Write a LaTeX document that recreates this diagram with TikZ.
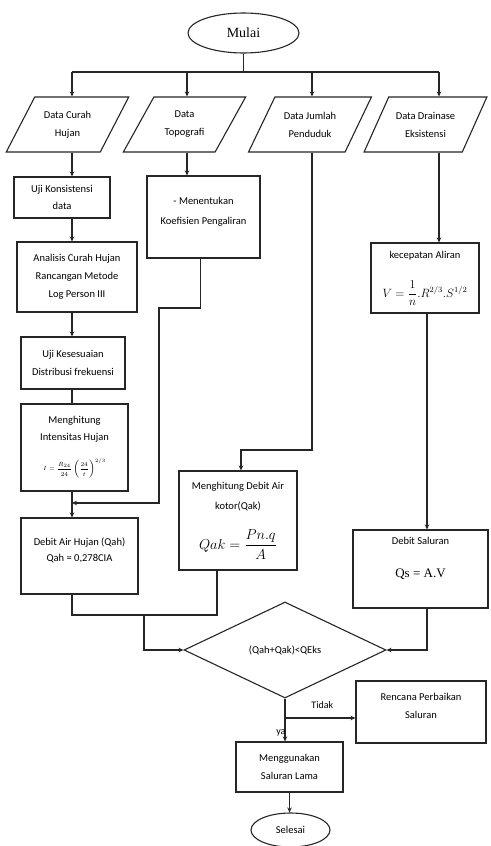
\documentclass[tikz,border=0pt]{standalone}
\usepackage{fontspec}
\setmainfont{Carlito}
\newfontfamily\serif{Liberation Serif}
\usetikzlibrary{shapes.geometric, arrows.meta}

\begin{document}
\begin{tikzpicture}[
    x=1pt, y=-1pt,
    >={Stealth[length=5pt, width=4.5pt]},
    font=\fontsize{10.5}{18}\selectfont,
    line/.style={line width=1.1pt, draw=black!85},
    arr/.style ={line, ->},
    box/.style ={draw=black!85, line width=1.1pt, fill=white, align=center, inner sep=3pt},
    io/.style  ={box, trapezium, trapezium left angle=55, trapezium right angle=125,
                 trapezium stretches=true, minimum width=123pt, minimum height=55pt},
    term/.style={box, ellipse},
    cond/.style={box, diamond, aspect=2.1, inner sep=0pt},
    lbl/.style ={font=\fontsize{10}{12}\selectfont, inner sep=1pt}
  ]
  \path[fill=white] (0,0) rectangle (490,846);
  \useasboundingbox (0,0) rectangle (490,846);

  % ---- start and the four data inputs -----------------------------------
  \node[term, minimum width=111pt, minimum height=40pt,
        font=\serif\fontsize{14}{16}\selectfont] (mulai) at (243.5,33) {Mulai};

  \node[io] (d1) at (67.5,124.5)  {Data Curah\\Hujan};
  \node[io] (d2) at (184.5,124.5) {Data\\Topografi};
  \node[io] (d3) at (310,124.5)   {Data Jumlah\\Penduduk};
  \node[io] (d4) at (425.5,124.5) {Data Drainase\\Eksistensi};

  % ---- column 1: rainfall --------------------------------------------------
  \node[box, minimum width=96pt, minimum height=41pt] (uji) at (62,197.5)
        {Uji Konsistensi\\[-1pt]data};
  \node[box, minimum width=120pt, minimum height=70pt] (ana) at (77,277)
        {Analisis Curah Hujan\\Rancangan Metode\\Log Person III};
  \node[box, minimum width=104pt, minimum height=52pt] (kes) at (73,363)
        {Uji Kesesuaian\\Distribusi frekuensi};
  \node[box, minimum width=107pt, minimum height=87pt] (ih) at (74.5,447.5)
        {Menghitung\\[-1pt]Intensitas Hujan\\[12pt]
         {\fontsize{6}{7}\selectfont$\displaystyle I=\frac{R_{24}}{24}\left(\frac{24}{t}\right)^{2/3}$}};
  \node[box, minimum width=117pt, minimum height=76pt, text depth=12.5pt] (qah) at (79.5,556)
        {Debit Air Hujan (Qah)\\[-2pt]Qah = 0,278CIA};

  % ---- column 2: topography -----------------------------------------------
  \node[box, minimum width=113pt, minimum height=82pt, text depth=12.5pt] (koef) at (203.5,217)
        {- Menentukan\\[2pt]Koefisien Pengaliran};

  % ---- column 3: population -----------------------------------------------
  \node[box, minimum width=118pt, minimum height=99pt] (qak) at (238,520.5)
        {Menghitung Debit Air\\[2pt]kotor(Qak)\\[18pt]
         {\fontsize{14}{16}\selectfont$\displaystyle Qak=\frac{Pn.q}{A}$}};

  % ---- column 4: existing drainage ----------------------------------------
  \node[box, minimum width=108pt, minimum height=70pt] (kec) at (425,278)
        {kecepatan Aliran\\[21pt]
         {\fontsize{12}{14}\selectfont$\displaystyle V=\frac{1}{n}.R^{2/3}.S^{1/2}$}};
  \node[box, minimum width=135pt, minimum height=78pt, text depth=22.5pt] (sal) at (420.5,569)
        {Debit Saluran\\[15pt]{\serif\fontsize{13}{15}\selectfont Qs = A.V}};

  % ---- decision and end ------------------------------------------------------
  \node[cond, minimum width=202pt, minimum height=96pt] (dec) at (285,650) {(Qah+Qak)<QEks};
  \node[box, minimum width=130pt, minimum height=62pt, text depth=12.5pt] (ren) at (421,712)
        {Rencana Perbaikan\\Saluran};
  \node[box, minimum width=107pt, minimum height=50pt] (lama) at (289.5,767)
        {Menggunakan\\Saluran Lama};
  \node[term, minimum width=79pt, minimum height=34pt] (sel) at (290.5,830) {Selesai};

  % ---- helper coordinates ------------------------------------------------------
  \coordinate (bus) at (0,72);
  \coordinate (c1) at (72,0);
  \coordinate (c2) at (187,0);
  \coordinate (c3) at (312,0);
  \coordinate (c4) at (439,0);
  \coordinate (c5) at (427,0);
  \coordinate (c6) at (144,0);
  \coordinate (c7) at (217,0);
  \coordinate (k1) at (159,308);
  \coordinate (k2) at (0,503);
  \coordinate (k3) at (0,450);
  \coordinate (k4) at (0,615);
  \coordinate (k5) at (0,718);

  % ---- start -> inputs ---------------------------------------------------------
  \draw[line] (mulai.south) -- (mulai.south |- bus);
  \draw[line] (bus -| c1) -- (bus -| c4);
  \foreach \i in {1,...,4}
    \draw[arr] (bus -| c\i) -- (d\i.north -| c\i);

  % ---- column 1 ------------------------------------------------------------------
  \draw[arr]  (d1.south -| c1)  -- (uji.north -| c1);
  \draw[arr]  (uji.south -| c1) -- (ana.north -| c1);
  \draw[arr]  (ana.south -| c1) -- (kes.north -| c1);
  \draw[line] (kes.south -| c1) -- (ih.north -| c1);
  \draw[arr]  (ih.south -| c1)  -- (qah.north -| c1);

  % ---- column 2 joins column 1 ---------------------------------------------------
  \draw[arr] (d2.south -| c2) -- (koef.north -| c2);
  \draw[arr] ([xshift=-3pt]koef.south) |- (k1) |- (k2 -| c1);

  % ---- column 3 ------------------------------------------------------------------
  \draw[arr] (d3.south -| c3) -- (k3 -| c3) -| ([xshift=3pt]qak.north);

  % ---- column 4 ------------------------------------------------------------------
  \draw[arr] (d4.south -| c4) -- (kec.north -| c4);
  \draw[arr] (kec.south -| c5) -- (sal.north -| c5);

  % ---- into the decision ---------------------------------------------------------
  \draw[line] (qah.south -| c1) |- (k4 -| c7) -- (qak.south -| c7);
  \draw[arr]  (k4 -| c6) |- (dec.west);
  \draw[arr]  (sal.south -| c5) |- (dec.east);

  % ---- out of the decision -------------------------------------------------------
  \draw[arr] (dec.south) -- (dec.south |- lama.north)
             node[lbl, pos=0.8, left=-2pt] {ya};
  \draw[arr] (dec.south |- k5) -- (ren.west |- k5)
             node[lbl, pos=0.53, above=8pt] {Tidak};
  \draw[arr] (lama.south) -- (lama.south |- sel.north);

\end{tikzpicture}
\end{document}
